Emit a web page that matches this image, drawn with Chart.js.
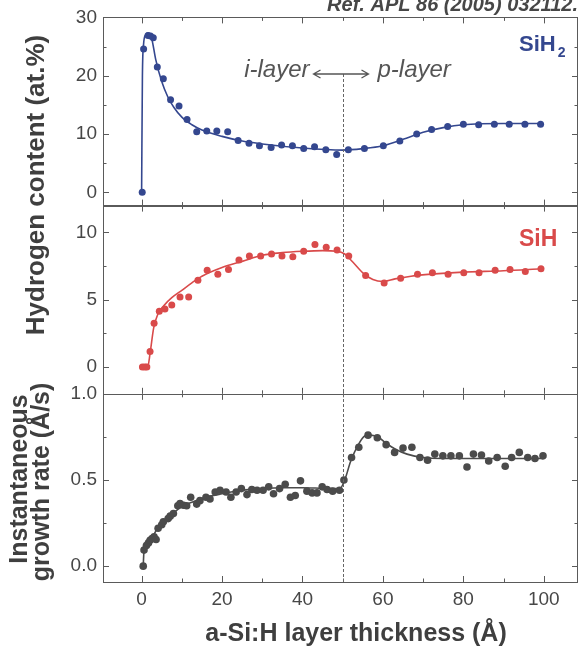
<!DOCTYPE html>
<html>
<head>
<meta charset="utf-8">
<script src="https://cdn.jsdelivr.net/npm/chart.js@4.4.1/dist/chart.umd.min.js"></script>
<style>
  html, body { margin: 0; padding: 0; background: #fff; overflow: hidden; }
  #wrap { width: 578px; height: 650px; overflow: hidden; }
  #c { display: block; }
</style>
</head>
<body>
<div id="wrap"><canvas id="c" width="582" height="650"></canvas></div>
<script>
// SiH2 content (top panel)
const sih2X = [0.15, 0.5, 1.6, 2.2, 2.9, 3.9, 5.4, 7.2, 9.3, 11.3, 13.7, 16.2, 18.7, 21.4, 24.0, 26.7, 29.3, 32.2, 34.8, 37.5, 40.3, 43.0, 45.8, 48.5, 51.4, 55.4, 60.1, 64.2, 68.4, 72.1, 76.1, 80.0, 83.8, 87.7, 91.4, 95.3, 99.2];
const sih2Y = [0.0, 24.6, 26.9, 26.8, 26.5, 21.5, 19.5, 15.9, 14.8, 12.5, 10.4, 10.5, 10.5, 10.4, 8.9, 8.4, 8.0, 7.7, 8.1, 8.0, 7.5, 7.8, 7.3, 6.5, 7.3, 7.5, 8.0, 8.8, 10.0, 10.8, 11.3, 11.7, 11.6, 11.7, 11.7, 11.7, 11.7];
const sih2FitX = [0, 0.2, 0.5, 1.0, 1.6, 2.5, 3.5, 5, 6.5, 8, 10, 12.5, 15, 20, 25, 30, 40, 50, 55, 60, 65, 70, 75, 80, 90, 99.2];
const sih2FitY = [0, 20, 25.5, 27.0, 27.3, 26.4, 22.8, 19.0, 16.4, 14.6, 12.9, 11.6, 10.7, 9.6, 8.8, 8.3, 7.6, 7.25, 7.5, 8.0, 9.1, 10.3, 11.1, 11.6, 11.8, 11.8];

// SiH content (middle panel)
const sihX = [0.2, 0.8, 1.3, 2.1, 3.1, 4.4, 5.8, 7.5, 9.55, 11.7, 14.0, 16.3, 18.95, 21.6, 24.2, 26.8, 29.6, 32.3, 34.9, 37.6, 40.3, 43.1, 45.9, 48.6, 51.5, 55.7, 60.3, 64.4, 68.6, 72.3, 76.2, 80.1, 83.9, 87.9, 91.6, 95.4, 99.3];
const sihY = [0, 0, 0, 1.15, 3.25, 4.15, 4.3, 4.6, 5.2, 5.2, 6.45, 7.2, 6.9, 7.25, 7.95, 8.25, 8.25, 8.4, 8.25, 8.2, 8.6, 9.1, 8.9, 8.7, 8.25, 6.8, 6.25, 6.6, 6.9, 7.0, 6.9, 7.0, 7.0, 7.2, 7.25, 7.1, 7.3];
const sihFitX = [0.2, 1.5, 2.1, 3, 4, 5.5, 7.5, 10, 12.5, 15, 20, 25, 30, 35, 40, 45, 48.5, 50.5, 52.5, 55, 57.5, 60, 63, 67, 72, 80, 90, 99.3];
const sihFitY = [0, 0, 1.0, 2.9, 3.9, 4.55, 5.15, 5.7, 6.25, 6.75, 7.4, 7.85, 8.3, 8.5, 8.6, 8.65, 8.6, 8.4, 7.8, 7.0, 6.5, 6.35, 6.55, 6.75, 6.9, 7.05, 7.15, 7.3];

// instantaneous growth rate (bottom panel)
const rateX = [0.4, 0.6, 1.2, 1.7, 2.1, 2.6, 3.1, 3.6, 4.1, 5.0, 5.4, 6.6, 7.1, 7.9, 9.0, 9.55, 10.4, 11.2, 12.2, 13.7, 14.5, 16.0, 17.0, 18.3, 19.5, 21.0, 22.2, 23.5, 24.8, 26.2, 27.4, 28.7, 30.2, 31.6, 32.8, 34.3, 35.7, 37.0, 38.2, 39.5, 41.1, 42.4, 43.6, 44.9, 46.1, 47.5, 49.2, 50.3, 52.2, 54.0, 56.3, 58.6, 60.8, 62.9, 65.0, 67.2, 69.2, 71.1, 72.9, 74.9, 76.9, 79.0, 80.9, 82.5, 84.5, 86.3, 88.4, 90.4, 92.0, 93.9, 96.0, 97.8, 99.8];
const rateY = [0.0, 0.093, 0.12, 0.135, 0.15, 0.16, 0.17, 0.155, 0.22, 0.24, 0.257, 0.276, 0.29, 0.305, 0.35, 0.363, 0.353, 0.35, 0.40, 0.36, 0.38, 0.40, 0.39, 0.43, 0.44, 0.43, 0.40, 0.43, 0.45, 0.415, 0.445, 0.44, 0.44, 0.46, 0.42, 0.45, 0.475, 0.40, 0.41, 0.495, 0.435, 0.425, 0.425, 0.46, 0.445, 0.435, 0.44, 0.50, 0.63, 0.69, 0.76, 0.745, 0.705, 0.66, 0.685, 0.69, 0.63, 0.615, 0.65, 0.64, 0.64, 0.64, 0.575, 0.65, 0.645, 0.61, 0.63, 0.58, 0.63, 0.66, 0.63, 0.625, 0.64];
const rateFitX = [0.4, 0.6, 2, 4, 6, 8, 10, 13, 16, 20, 25, 30, 35, 40, 45, 49.3, 50.5, 52, 54, 55.5, 57, 59, 61, 63, 66, 70, 75, 85, 99.8];
const rateFitY = [0, 0.09, 0.15, 0.22, 0.27, 0.31, 0.345, 0.375, 0.40, 0.42, 0.44, 0.45, 0.455, 0.455, 0.452, 0.45, 0.50, 0.61, 0.71, 0.755, 0.76, 0.745, 0.71, 0.68, 0.65, 0.63, 0.625, 0.625, 0.625];

// ticks
const xLabels = [0, 20, 40, 60, 80, 100];
const xMinor = [10, 30, 50, 70, 90];
const topLabels = [0, 10, 20, 30], topMinor = [5, 15, 25];
const midLabels = [0, 5, 10], midMinor = [2.5, 7.5];
const botLabels = [0, 0.5, 1.0], botMinor = [0.25, 0.75];

const BLUE = '#34478f', RED = '#d94a4a', GREY = '#4b4b4b', TXT = '#474747';
const FONT = "'Liberation Sans', Arial, sans-serif";

const pts = (xs, ys) => xs.map((x, i) => ({ x: x, y: ys[i] }));

function yAxis(min, max, labels, fmt) {
    return {
        type: 'linear', position: 'left', stack: 'panels', stackWeight: 1,
        min: min, max: max,
        grid: { display: false, drawTicks: false },
        border: { display: false },
        afterBuildTicks: s => { s.ticks = labels.map(v => ({ value: v })); },
        afterFit: s => { s.width = 103; },
        ticks: { padding: 6, color: TXT, autoSkip: false, font: { family: FONT, size: 19 }, callback: fmt }
    };
}

const decor = {
    id: 'decor',
    afterDraw(chart) {
        const ctx = chart.ctx, a = chart.chartArea, sx = chart.scales.x;
        const panels = [
            [chart.scales.yTop, topLabels, topMinor],
            [chart.scales.yMid, midLabels, midMinor],
            [chart.scales.yBot, botLabels, botMinor]
        ];
        ctx.save();
        ctx.strokeStyle = '#5a5a5a';
        ctx.lineWidth = 1;
        panels.forEach(([s, maj, mnr]) => {
            ctx.strokeRect(a.left + 0.5, Math.round(s.top) + 0.5, a.right - a.left - 1, Math.round(s.bottom - s.top));
            ctx.beginPath();
            const xt = (v, len) => {
                const px = Math.round(sx.getPixelForValue(v)) + 0.5;
                ctx.moveTo(px, s.top); ctx.lineTo(px, s.top + len);
                ctx.moveTo(px, s.bottom); ctx.lineTo(px, s.bottom - len);
            };
            xLabels.forEach(v => xt(v, 6));
            xMinor.forEach(v => xt(v, 3.5));
            const yt = (v, len) => {
                const py = Math.round(s.getPixelForValue(v)) + 0.5;
                ctx.moveTo(a.left, py); ctx.lineTo(a.left + len, py);
                ctx.moveTo(a.right, py); ctx.lineTo(a.right - len, py);
            };
            maj.forEach(v => yt(v, 6));
            mnr.forEach(v => yt(v, 3.5));
            ctx.stroke();
        });

        // i/p interface
        const x50 = Math.round(sx.getPixelForValue(50)) + 0.5;
        ctx.strokeStyle = '#666';
        ctx.setLineDash([3, 2]);
        ctx.beginPath();
        ctx.moveTo(x50, 74); ctx.lineTo(x50, a.bottom);
        ctx.stroke();
        ctx.setLineDash([]);

        ctx.strokeStyle = '#555';
        ctx.fillStyle = '#555';
        ctx.lineWidth = 1.3;
        const ay = 74, l = x50 - 30, r = x50 + 25;
        ctx.beginPath();
        ctx.moveTo(l, ay); ctx.lineTo(r, ay);
        ctx.moveTo(l + 7, ay - 4); ctx.lineTo(l, ay); ctx.lineTo(l + 7, ay + 4);
        ctx.moveTo(r - 7, ay - 4); ctx.lineTo(r, ay); ctx.lineTo(r - 7, ay + 4);
        ctx.stroke();
        ctx.font = 'italic 24px ' + FONT;
        ctx.textBaseline = 'alphabetic';
        ctx.textAlign = 'right';
        ctx.fillText('i-layer', l - 4, 77);
        ctx.textAlign = 'left';
        ctx.fillText('p-layer', r + 9, 77);

        // series labels
        ctx.font = 'bold 22px ' + FONT;
        ctx.fillStyle = BLUE;
        ctx.fillText('SiH', 519, 51);
        const w = ctx.measureText('SiH').width;
        ctx.font = 'bold 14px ' + FONT;
        ctx.fillText('2', 519 + w + 2, 57);
        ctx.font = 'bold 23px ' + FONT;
        ctx.fillStyle = RED;
        ctx.fillText('SiH', 519, 246);

        // reference
        ctx.fillStyle = TXT;
        ctx.font = 'italic bold 20px ' + FONT;
        ctx.textAlign = 'right';
        ctx.fillText('Ref. APL 86 (2005) 032112.', 578, 11);

        // axis titles
        ctx.font = 'bold 25px ' + FONT;
        ctx.textAlign = 'center';
        ctx.fillStyle = '#3f3f3f';
        ctx.fillText('a-Si:H layer thickness (\u00c5)', 356, 641);
        const vtext = (t, x, y) => {
            ctx.save();
            ctx.translate(x, y);
            ctx.rotate(-Math.PI / 2);
            ctx.fillText(t, 0, 0);
            ctx.restore();
        };
        ctx.font = 'bold 26px ' + FONT;
        vtext('Hydrogen content (at.%)', 44, 185);
        ctx.font = 'bold 25px ' + FONT;
        vtext('Instantaneous', 27, 479);
        vtext('growth rate (\u00c5/s)', 49, 482);
        ctx.restore();
    }
};

new Chart(document.getElementById('c').getContext('2d'), {
    type: 'scatter',
    data: {
        datasets: [
            { data: pts(sih2X, sih2Y), yAxisID: 'yTop', backgroundColor: BLUE, pointRadius: 3.5, pointBorderWidth: 0, order: 0 },
            { data: pts(sihX, sihY), yAxisID: 'yMid', backgroundColor: RED, pointRadius: 3.5, pointBorderWidth: 0, order: 0 },
            { data: pts(rateX, rateY), yAxisID: 'yBot', backgroundColor: GREY, pointRadius: 3.8, pointBorderWidth: 0, order: 0 },
            { data: pts(sih2FitX, sih2FitY), yAxisID: 'yTop', showLine: true, borderColor: BLUE, borderWidth: 1.6, pointRadius: 0, cubicInterpolationMode: 'monotone', order: 1 },
            { data: pts(sihFitX, sihFitY), yAxisID: 'yMid', showLine: true, borderColor: RED, borderWidth: 1.6, pointRadius: 0, cubicInterpolationMode: 'monotone', order: 1 },
            { data: pts(rateFitX, rateFitY), yAxisID: 'yBot', showLine: true, borderColor: GREY, borderWidth: 1.6, pointRadius: 0, cubicInterpolationMode: 'monotone', order: 1 }
        ]
    },
    options: {
        responsive: false,
        animation: false,
        layout: { padding: { top: 15, right: 1, left: 0, bottom: 0 } },
        plugins: { legend: { display: false }, tooltip: { enabled: false } },
        scales: {
            x: {
                type: 'linear', position: 'bottom', min: -9.6, max: 108.5,
                grid: { display: false, drawTicks: false },
                border: { display: false },
                afterBuildTicks: s => { s.ticks = xLabels.map(v => ({ value: v })); },
                afterFit: s => { s.height = 68; },
                ticks: { padding: 6, color: TXT, autoSkip: false, maxRotation: 0, font: { family: FONT, size: 19 } }
            },
            yBot: yAxis(-0.092, 1.0, botLabels, v => v.toFixed(1)),
            yMid: yAxis(-2, 12, midLabels, v => String(v)),
            yTop: yAxis(-2.27, 30, topLabels, v => String(v))
        }
    },
    plugins: [decor]
});
</script>
</body>
</html>
